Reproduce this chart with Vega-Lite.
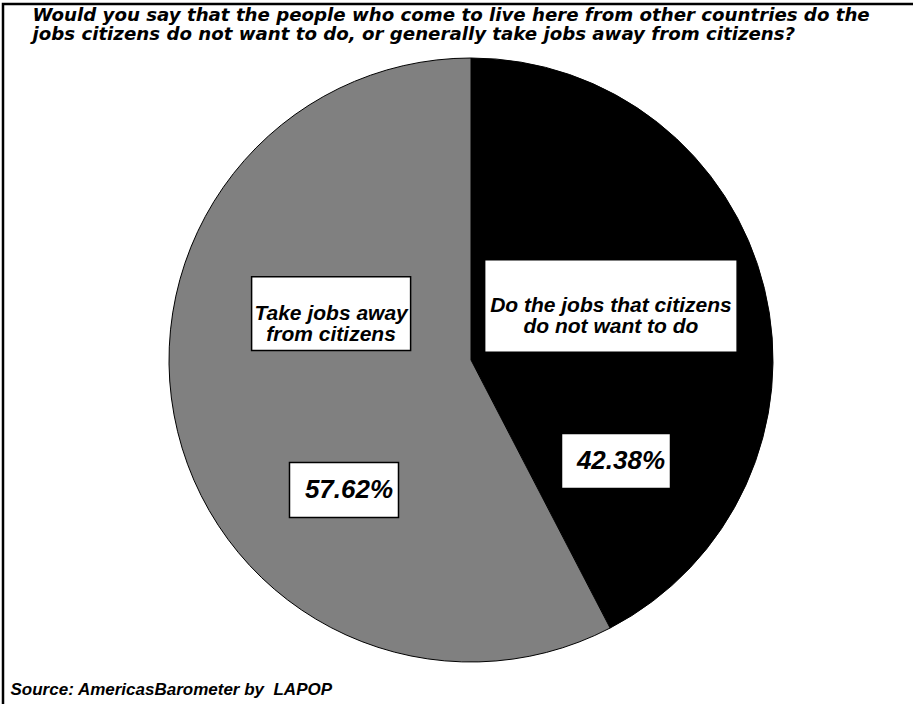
{
  "$schema": "https://vega.github.io/schema/vega-lite/v6.json",
  "autosize": "none",
  "width": 936,
  "height": 712,
  "padding": {"left": 3, "top": 4, "right": -26, "bottom": -12},
  "background": "white",
  "config": {
    "view": {"stroke": "#000000", "strokeWidth": 2.5},
    "font": "Liberation Sans"
  },
  "data": {
    "values": [
      {"response": "Do the jobs that citizens\ndo not want to do", "share": 42.38},
      {"response": "Take jobs away\nfrom citizens", "share": 57.62}
    ]
  },
  "transform": [
    {"window": [{"op": "sum", "field": "share", "as": "cum"}], "sort": [{"field": "response", "order": "ascending"}]},
    {"calculate": "2*PI*(datum.cum - datum.share/2)/100", "as": "mid"},
    {"calculate": "sin(datum.mid)", "as": "sx"},
    {"calculate": "-cos(datum.mid)", "as": "cy"},
    {"calculate": "split(datum.response, '\\n')", "as": "lines"},
    {"calculate": "max(length(datum.lines[0]), length(datum.lines[1]))", "as": "len"},
    {"calculate": "144*datum.sx", "as": "catX"},
    {"calculate": "-50.25 + 16*datum.cy", "as": "catY"},
    {"calculate": "40 + 8.5*datum.len", "as": "catW"},
    {"calculate": "50 + 1.7*datum.len", "as": "catH"},
    {"calculate": "datum.catX - datum.catW/2", "as": "catX1"},
    {"calculate": "datum.catX + datum.catW/2", "as": "catX2"},
    {"calculate": "datum.catY - datum.catH/2", "as": "catY1"},
    {"calculate": "datum.catY + datum.catH/2", "as": "catY2"},
    {"calculate": "140*datum.sx + 9", "as": "pctX"},
    {"calculate": "115.5 + 61*datum.cy", "as": "pctY"},
    {"calculate": "datum.pctX - 54.5", "as": "pctX1"},
    {"calculate": "datum.pctX + 54.5", "as": "pctX2"},
    {"calculate": "datum.pctY - 27.5", "as": "pctY1"},
    {"calculate": "datum.pctY + 27.5", "as": "pctY2"},
    {"calculate": "datum.pctX + 5", "as": "pctTX"},
    {"calculate": "format(datum.share, '.2f') + '%'", "as": "pctLabel"}
  ],
  "layer": [
    {
      "mark": {"type": "arc", "outerRadius": 302, "stroke": "#000000", "strokeWidth": 1},
      "encoding": {
        "theta": {"field": "share", "type": "quantitative", "stack": true},
        "color": {
          "field": "response",
          "type": "nominal",
          "scale": {
            "domain": ["Do the jobs that citizens\ndo not want to do", "Take jobs away\nfrom citizens"],
            "range": ["#000000", "#808080"]
          },
          "legend": null
        }
      }
    },
    {
      "mark": {"type": "rect", "fill": "#ffffff", "stroke": "#000000", "strokeWidth": 1.5},
      "encoding": {
        "x": {"field": "catX1", "type": "quantitative",
          "scale": {"domain": [-468, 468], "nice": false, "zero": false},
          "axis": {"title": "Source: AmericasBarometer by\u00a0 LAPOP", "domain": false, "ticks": false, "labels": false, "grid": false, "titleX": 7, "titleY": -22, "titleAlign": "left", "titleAnchor": "start", "titleBaseline": "alphabetic", "titleFont": "Liberation Sans", "titleFontSize": 17, "titleFontWeight": "bold", "titleFontStyle": "italic", "titleColor": "#000000"}},
        "x2": {"field": "catX2"},
        "y": {"field": "catY1", "type": "quantitative",
          "scale": {"domain": [-356, 356], "nice": false, "zero": false, "reverse": true},
          "axis": {"title": ["Would you say that the people who come to live here from other countries do the", "jobs citizens do not want to do, or generally take jobs away from citizens?"], "domain": false, "ticks": false, "labels": false, "grid": false, "titleAngle": 0, "titleX": 29, "titleY": 16, "titleAlign": "left", "titleAnchor": "start", "titleBaseline": "alphabetic", "titleLineHeight": 19, "titleFont": "DejaVu Sans", "titleFontSize": 18.2, "titleFontWeight": "bold", "titleFontStyle": "italic", "titleColor": "#000000"}},
        "y2": {"field": "catY2"}
      }
    },
    {
      "mark": {"type": "text", "font": "Liberation Sans", "fontSize": 21, "fontWeight": "bold", "fontStyle": "italic", "align": "center", "baseline": "middle", "lineBreak": "\n", "lineHeight": 21, "color": "#000000"},
      "encoding": {
        "x": {"field": "catX", "type": "quantitative",
          "scale": {"domain": [-468, 468], "nice": false, "zero": false},
          "axis": {"title": "Source: AmericasBarometer by\u00a0 LAPOP", "domain": false, "ticks": false, "labels": false, "grid": false, "titleX": 7, "titleY": -22, "titleAlign": "left", "titleAnchor": "start", "titleBaseline": "alphabetic", "titleFont": "Liberation Sans", "titleFontSize": 17, "titleFontWeight": "bold", "titleFontStyle": "italic", "titleColor": "#000000"}},
        "y": {"field": "catY", "type": "quantitative",
          "scale": {"domain": [-356, 356], "nice": false, "zero": false, "reverse": true},
          "axis": {"title": ["Would you say that the people who come to live here from other countries do the", "jobs citizens do not want to do, or generally take jobs away from citizens?"], "domain": false, "ticks": false, "labels": false, "grid": false, "titleAngle": 0, "titleX": 29, "titleY": 16, "titleAlign": "left", "titleAnchor": "start", "titleBaseline": "alphabetic", "titleLineHeight": 19, "titleFont": "DejaVu Sans", "titleFontSize": 18.2, "titleFontWeight": "bold", "titleFontStyle": "italic", "titleColor": "#000000"}},
        "text": {"field": "response", "type": "nominal"}
      }
    },
    {
      "mark": {"type": "rect", "fill": "#ffffff", "stroke": "#000000", "strokeWidth": 1.5},
      "encoding": {
        "x": {"field": "pctX1", "type": "quantitative",
          "scale": {"domain": [-468, 468], "nice": false, "zero": false},
          "axis": {"title": "Source: AmericasBarometer by\u00a0 LAPOP", "domain": false, "ticks": false, "labels": false, "grid": false, "titleX": 7, "titleY": -22, "titleAlign": "left", "titleAnchor": "start", "titleBaseline": "alphabetic", "titleFont": "Liberation Sans", "titleFontSize": 17, "titleFontWeight": "bold", "titleFontStyle": "italic", "titleColor": "#000000"}},
        "x2": {"field": "pctX2"},
        "y": {"field": "pctY1", "type": "quantitative",
          "scale": {"domain": [-356, 356], "nice": false, "zero": false, "reverse": true},
          "axis": {"title": ["Would you say that the people who come to live here from other countries do the", "jobs citizens do not want to do, or generally take jobs away from citizens?"], "domain": false, "ticks": false, "labels": false, "grid": false, "titleAngle": 0, "titleX": 29, "titleY": 16, "titleAlign": "left", "titleAnchor": "start", "titleBaseline": "alphabetic", "titleLineHeight": 19, "titleFont": "DejaVu Sans", "titleFontSize": 18.2, "titleFontWeight": "bold", "titleFontStyle": "italic", "titleColor": "#000000"}},
        "y2": {"field": "pctY2"}
      }
    },
    {
      "mark": {"type": "text", "font": "Liberation Sans", "fontSize": 26, "fontWeight": "bold", "fontStyle": "italic", "align": "center", "baseline": "middle", "color": "#000000"},
      "encoding": {
        "x": {"field": "pctTX", "type": "quantitative",
          "scale": {"domain": [-468, 468], "nice": false, "zero": false},
          "axis": {"title": "Source: AmericasBarometer by\u00a0 LAPOP", "domain": false, "ticks": false, "labels": false, "grid": false, "titleX": 7, "titleY": -22, "titleAlign": "left", "titleAnchor": "start", "titleBaseline": "alphabetic", "titleFont": "Liberation Sans", "titleFontSize": 17, "titleFontWeight": "bold", "titleFontStyle": "italic", "titleColor": "#000000"}},
        "y": {"field": "pctY", "type": "quantitative",
          "scale": {"domain": [-356, 356], "nice": false, "zero": false, "reverse": true},
          "axis": {"title": ["Would you say that the people who come to live here from other countries do the", "jobs citizens do not want to do, or generally take jobs away from citizens?"], "domain": false, "ticks": false, "labels": false, "grid": false, "titleAngle": 0, "titleX": 29, "titleY": 16, "titleAlign": "left", "titleAnchor": "start", "titleBaseline": "alphabetic", "titleLineHeight": 19, "titleFont": "DejaVu Sans", "titleFontSize": 18.2, "titleFontWeight": "bold", "titleFontStyle": "italic", "titleColor": "#000000"}},
        "text": {"field": "pctLabel", "type": "nominal"}
      }
    }
  ]
}
